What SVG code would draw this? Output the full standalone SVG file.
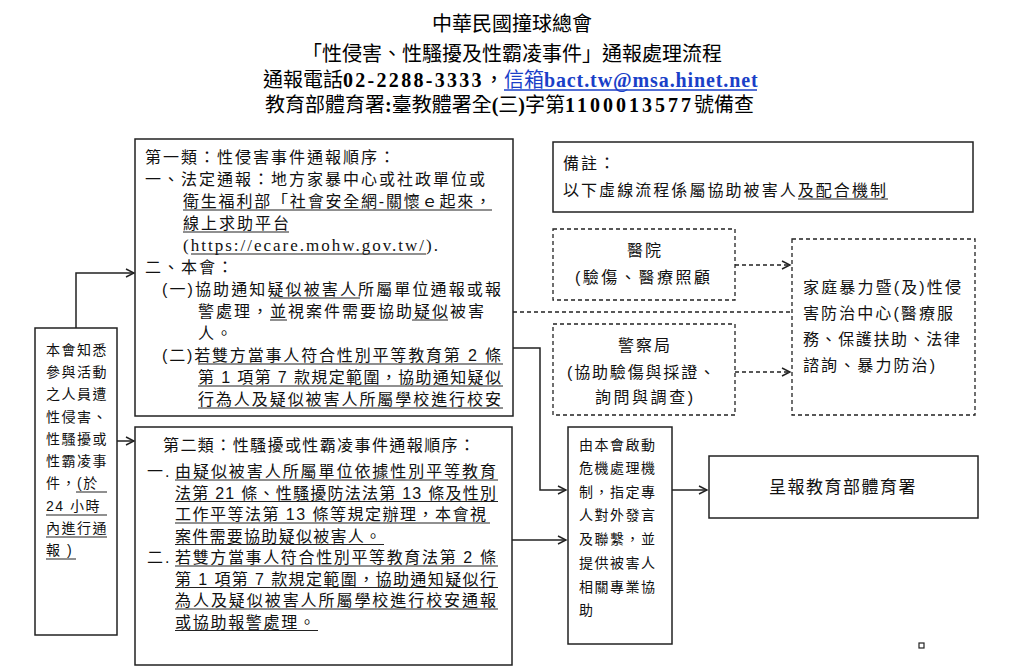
<svg xmlns="http://www.w3.org/2000/svg" width="1024" height="670" viewBox="0 0 1024 670">
<style>
.bg{fill:#fff}
.box{fill:#fff;stroke:#222;stroke-width:1.5}
.dbox{fill:#fff;stroke:#222;stroke-width:1.3;stroke-dasharray:4 3}
.t{font-family:"Liberation Sans","Noto Sans CJK TC","Noto Sans CJK SC",sans-serif;font-size:16px;letter-spacing:2px;fill:#111}
.s{font-family:"Liberation Sans","Noto Sans CJK TC","Noto Sans CJK SC",sans-serif;font-size:14px;letter-spacing:1.5px;fill:#111}
.h{font-family:"Liberation Serif","Noto Sans CJK TC","Noto Sans CJK SC",serif;font-size:20px;fill:#000}
.lat{font-weight:bold}
.url{font-family:"Liberation Serif","Noto Sans CJK TC",serif;font-size:17px;letter-spacing:0;fill:#111}
.ul{stroke:#222;stroke-width:1.1;fill:none}
.conn{stroke:#222;stroke-width:1.5;fill:none}
.dconn{stroke:#222;stroke-width:1.3;fill:none;stroke-dasharray:4 3}
.link{fill:#1a3fc8}
</style>
<defs>
<marker id="arr" markerWidth="12" markerHeight="12" refX="9" refY="5" orient="auto" markerUnits="userSpaceOnUse">
<path d="M1,1 L9,5 L1,9" fill="none" stroke="#222" stroke-width="1.4"/>
</marker>
</defs>
<rect class="bg" x="0" y="0" width="1024" height="670"/>

<g id="title">
<text class="h" x="512" y="31" text-anchor="middle">中華民國撞球總會</text>
<text class="h" x="512" y="61" text-anchor="middle">「性侵害、性騷擾及性霸凌事件」通報處理流程</text>
<text class="h" x="263" y="87">通報電話<tspan class="lat" style="letter-spacing:2.3px">02-2288-3333</tspan>，<tspan class="link">信箱</tspan><tspan class="lat link" style="letter-spacing:0.9px">bact.tw@msa.hinet.net</tspan></text>
<line x1="504" y1="90" x2="757" y2="90" stroke="#1a3fc8" stroke-width="1.3"/>
<text class="h" x="265" y="112">教育部體育署<tspan class="lat">:</tspan>臺教體署全<tspan class="lat">(</tspan>三<tspan class="lat">)</tspan>字第<tspan class="lat" style="letter-spacing:3px">1100013577</tspan>號備查</text>
</g>

<g id="connectors">
<path class="conn" d="M76,328 V273 H134" marker-end="url(#arr)"/>
<path class="conn" d="M117,441 H134" marker-end="url(#arr)"/>
<path class="conn" d="M513,348 H540 V490 H566" marker-end="url(#arr)"/>
<path class="conn" d="M512,540 H566" marker-end="url(#arr)"/>
<path class="conn" d="M672,490 H707" marker-end="url(#arr)"/>
<path class="dconn" d="M735,265 H790" marker-end="url(#arr)"/>
<path class="dconn" d="M735,372 H790" marker-end="url(#arr)"/>
<path class="dconn" d="M513,312 H792"/>
</g>

<g id="node-left">
<rect class="box" x="35" y="328" width="82" height="307"/>
<text class="s" x="46" y="355">本會知悉</text>
<text class="s" x="46" y="377">參與活動</text>
<text class="s" x="46" y="399">之人員遭</text>
<text class="s" x="46" y="422">性侵害、</text>
<text class="s" x="46" y="444">性騷擾或</text>
<text class="s" x="46" y="466">性霸凌事</text>
<text class="s" x="46" y="488">件，(於</text>
<text class="s" x="46" y="511">24 小時</text>
<text class="s" x="46" y="533">內進行通</text>
<text class="s" x="46" y="555">報 )</text>
<path class="ul" d="M76,492 H107 M46,515 H107 M46,537 H107 M46,559 H76"/>
</g>

<g id="node-type1">
<rect class="box" x="135" y="139" width="378" height="277"/>
<text class="t" x="145" y="163">第一類：性侵害事件通報順序：</text>
<text class="t" x="145" y="185" textLength="342" lengthAdjust="spacing">一、法定通報：地方家暴中心或社政單位或</text>
<text class="t" x="183" y="207" textLength="310" lengthAdjust="spacing">衛生福利部「社會安全網-關懷ｅ起來，</text>
<text class="t" x="183" y="229">線上求助平台</text>
<text class="url" x="183" y="251" textLength="255" lengthAdjust="spacing">(https://ecare.mohw.gov.tw/).</text>
<text class="t" x="145" y="273">二、本會：</text>
<text class="t" x="162" y="295" textLength="341" lengthAdjust="spacing">(一)協助通知疑似被害人所屬單位通報或報</text>
<text class="t" x="198" y="317" textLength="288" lengthAdjust="spacing">警處理，並視案件需要協助疑似被害</text>
<text class="t" x="198" y="339">人。</text>
<text class="t" x="162" y="361" textLength="341" lengthAdjust="spacing">(二)若雙方當事人符合性別平等教育第 2 條</text>
<text class="t" x="198" y="383" textLength="305" lengthAdjust="spacing">第 1 項第 7 款規定範圍，協助通知疑似</text>
<text class="t" x="198" y="405" textLength="305" lengthAdjust="spacing">行為人及疑似被害人所屬學校進行校安</text>
<path class="ul" d="M183,210 H492 M183,232 H289 M191,254 H426 M270,298 H360 M270,320 H287 M412,320 H448 M198,364 H503 M198,386 H503 M198,408 H503"/>
</g>

<g id="node-type2">
<rect class="box" x="135" y="427" width="377" height="238"/>
<text class="t" x="163" y="451" textLength="314" lengthAdjust="spacing">第二類：性騷擾或性霸凌事件通報順序：</text>
<text class="t" x="147" y="477">一.</text>
<text class="t" x="175" y="477" textLength="323" lengthAdjust="spacing">由疑似被害人所屬單位依據性別平等教育</text>
<text class="t" x="175" y="498.5" textLength="323" lengthAdjust="spacing">法第 21 條、性騷擾防法法第 13 條及性別</text>
<text class="t" x="175" y="520" textLength="313" lengthAdjust="spacing">工作平等法第 13 條等規定辦理，本會視</text>
<text class="t" x="175" y="541.5" textLength="208" lengthAdjust="spacing">案件需要協助疑似被害人。</text>
<text class="t" x="147" y="563">二.</text>
<text class="t" x="175" y="563" textLength="323" lengthAdjust="spacing">若雙方當事人符合性別平等教育法第 2 條</text>
<text class="t" x="175" y="584.5" textLength="323" lengthAdjust="spacing">第 1 項第 7 款規定範圍，協助通知疑似行</text>
<text class="t" x="175" y="606" textLength="323" lengthAdjust="spacing">為人及疑似被害人所屬學校進行校安通報</text>
<text class="t" x="175" y="627.5" textLength="142" lengthAdjust="spacing">或協助報警處理。</text>
<path class="ul" d="M175,480 H498 M175,501.5 H498 M175,523 H490 M175,544.5 H384 M175,566 H498 M175,587.5 H498 M175,609 H498 M175,630.5 H318"/>
</g>

<g id="node-note">
<rect class="box" x="553" y="142" width="420" height="70"/>
<text class="t" x="563" y="169">備註：</text>
<text class="t" x="563" y="196" textLength="325" lengthAdjust="spacing">以下虛線流程係屬協助被害人及配合機制</text>
<path class="ul" d="M798,199 H888"/>
</g>

<g id="node-hospital">
<rect class="dbox" x="553" y="229" width="182" height="71"/>
<text class="t" x="645" y="256" text-anchor="middle">醫院</text>
<text class="t" x="575" y="283" textLength="137" lengthAdjust="spacing">(驗傷、醫療照顧</text>
</g>

<g id="node-police">
<rect class="dbox" x="553" y="324" width="182" height="91"/>
<text class="t" x="645" y="351" text-anchor="middle">警察局</text>
<text class="t" x="567" y="378" textLength="150" lengthAdjust="spacing">(協助驗傷與採證、</text>
<text class="t" x="595" y="403" textLength="100" lengthAdjust="spacing">詢問與調查)</text>
</g>

<g id="node-center">
<rect class="dbox" x="792" y="239" width="183" height="176"/>
<text class="t" x="803" y="293" textLength="160" lengthAdjust="spacing">家庭暴力暨(及)性侵</text>
<text class="t" x="803" y="319" textLength="152" lengthAdjust="spacing">害防治中心(醫療服</text>
<text class="t" x="803" y="345" textLength="159" lengthAdjust="spacing">務、保護扶助、法律</text>
<text class="t" x="803" y="371" textLength="134" lengthAdjust="spacing">諮詢、暴力防治)</text>
</g>

<g id="node-crisis">
<rect class="box" x="568" y="427" width="104" height="217"/>
<text class="s" x="579" y="450">由本會啟動</text>
<text class="s" x="579" y="473">危機處理機</text>
<text class="s" x="579" y="497">制，指定專</text>
<text class="s" x="579" y="520">人對外發言</text>
<text class="s" x="579" y="544">及聯繫，並</text>
<text class="s" x="579" y="568">提供被害人</text>
<text class="s" x="579" y="592">相關專業協</text>
<text class="s" x="579" y="615">助</text>
</g>

<g id="node-report">
<rect class="box" x="709" y="456" width="269" height="62"/>
<text class="t" x="843" y="493" text-anchor="middle" style="font-size:17px;letter-spacing:1.5px">呈報教育部體育署</text>
</g>

<rect x="919" y="643" width="5" height="5" fill="none" stroke="#222" stroke-width="1.2"/>
</svg>
